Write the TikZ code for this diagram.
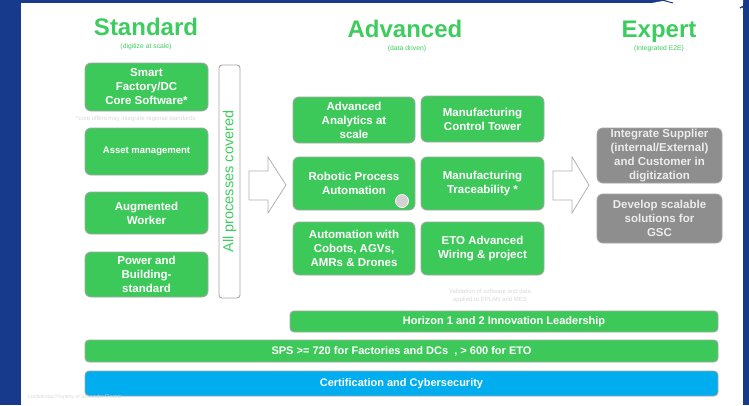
\documentclass[tikz,border=0pt]{standalone}
\usepackage{fontspec}
\setmainfont{Liberation Sans}
\usepackage{xcolor}
\usetikzlibrary{shapes,arrows,positioning,calc}

\definecolor{bgblue}{HTML}{173A8C}
\definecolor{boxgreen}{HTML}{3DC95A}
\definecolor{headgreen}{HTML}{3ECC5F}
\definecolor{boxgray}{HTML}{8E8E8E}
\definecolor{boxcyan}{HTML}{00AEEF}

\tikzset{
  box/.style={draw=gray!70, line width=0.9pt, rounded corners=6pt, fill=boxgreen,
    text=white, align=center, inner sep=0pt,
    font=\bfseries\fontsize{11.5}{14}\selectfont},
  graybox/.style={box, fill=boxgray, text=gray!15},
  bar/.style={box, rounded corners=4pt, font=\bfseries\fontsize{11}{13}\selectfont},
  title/.style={anchor=base, text=headgreen, font=\bfseries\fontsize{24}{28}\selectfont},
  subtitle/.style={anchor=base, text=headgreen, font=\fontsize{6.8}{8}\selectfont},
  faint/.style={text=gray!30, font=\fontsize{6}{8}\selectfont, align=center},
  blockarrow/.style={draw=gray!60, line width=0.8pt, fill=white, line join=miter}
}

\begin{document}
\begin{tikzpicture}[x=1pt,y=-1pt]
    \useasboundingbox (0,0) rectangle (749,405);
    % frame
    \fill [bgblue] (0,0) rectangle (749,405);
    \fill [white] (21,3) rectangle (743,405);
    \fill [white] (652,3) .. controls (660,1) .. (668,0) -- (743,0) -- (743,3) -- cycle;
    \draw [bgblue, line width=1pt] (662,0) .. controls (667,2) .. (673,3);
    \draw [bgblue, line width=1.2pt] (746,10) .. controls (742,6) .. (740,8);

    % Standard
    \node [title] (std) at (146,35) {Standard};
    \node [subtitle] (stdsub) at (146,48) {(digitize at scale)};
    \node [box, minimum width=123, minimum height=48] (sf) at (146.5,87) {Smart\\Factory/DC\\Core Software*};
    \node [faint] (sfnote) at (136,119) {*core offers may integrate regional standards};
    \node [box, minimum width=123, minimum height=47, font=\bfseries\fontsize{9.5}{12}\selectfont] (am) at (146.5,151.5) {Asset management};
    \node [box, minimum width=123, minimum height=42] (aw) at (146.5,213) {Augmented\\Worker};
    \node [box, minimum width=123, minimum height=45] (pb) at (146.5,274.5) {Power and\\Building-\\standard};
    \node [draw=gray!70, line width=0.9pt, rounded corners=3pt, fill=white, rotate=90,
           minimum width=233, minimum height=21, inner sep=0pt, text=headgreen,
           font=\fontsize{14.5}{16}\selectfont] (apc) at (229.5,181.5) {All processes covered};

    % arrow to Advanced
    \draw [blockarrow] (249,171) -- (268,171) -- (268,157) -- (286,185) -- (268,213) -- (268,200) -- (249,200) -- cycle;

    % Advanced
    \node [title] (adv) at (405,37) {Advanced};
    \node [subtitle] (advsub) at (407,50) {(data driven)};
    \node [box, minimum width=122, minimum height=46] (aas) at (354,120) {Advanced\\Analytics at\\scale};
    \node [box, minimum width=123, minimum height=46] (mct) at (482.5,119) {Manufacturing\\Control Tower};
    \node [box, minimum width=122, minimum height=53] (rpa) at (354,183.5) {Robotic Process\\Automation};
    \draw [white, line width=0.8pt, fill=gray!35] (402,201) circle (6.5);
    \node [box, minimum width=123, minimum height=53] (mt) at (482.5,183.5) {Manufacturing\\Traceability *};
    \node [box, minimum width=122, minimum height=53] (auto) at (354,248.5) {Automation with\\Cobots, AGVs,\\AMRs \& Drones};
    \node [box, minimum width=123, minimum height=53] (eto) at (482.5,248.5) {ETO Advanced\\Wiring \& project};
    \node [faint] (etonote) at (490,296) {Validation of software and data\\applied to EPLAN and MES};

    % arrow to Expert
    \draw [blockarrow] (553,171) -- (572,171) -- (572,157) -- (589,185) -- (572,213) -- (572,200) -- (553,200) -- cycle;

    % Expert
    \node [title] (exp) at (659,37) {Expert};
    \node [subtitle] (expsub) at (659,50) {(Integrated E2E)};
    \node [graybox, minimum width=125, minimum height=55] (isc) at (659.5,155.5) {Integrate Supplier\\(internal/External)\\and Customer in\\digitization};
    \node [graybox, minimum width=125, minimum height=49] (dss) at (659.5,218.5) {Develop scalable\\solutions for\\GSC};

    % bottom bars
    \node [bar, minimum width=428, minimum height=21] (h12) at (504,321.5) {Horizon 1 and 2 Innovation Leadership};
    \node [bar, minimum width=633, minimum height=22] (sps) at (401.5,351) {SPS >= 720 for Factories and DCs\ \ , > 600 for ETO};
    \node [bar, fill=boxcyan, minimum width=633, minimum height=25] (cert) at (401.5,383.5) {Certification and Cybersecurity};
    \node [faint, anchor=west, font=\fontsize{5}{6}\selectfont] (conf) at (24,397) {Confidential Property of Schneider Electric};
\end{tikzpicture}
\end{document}
